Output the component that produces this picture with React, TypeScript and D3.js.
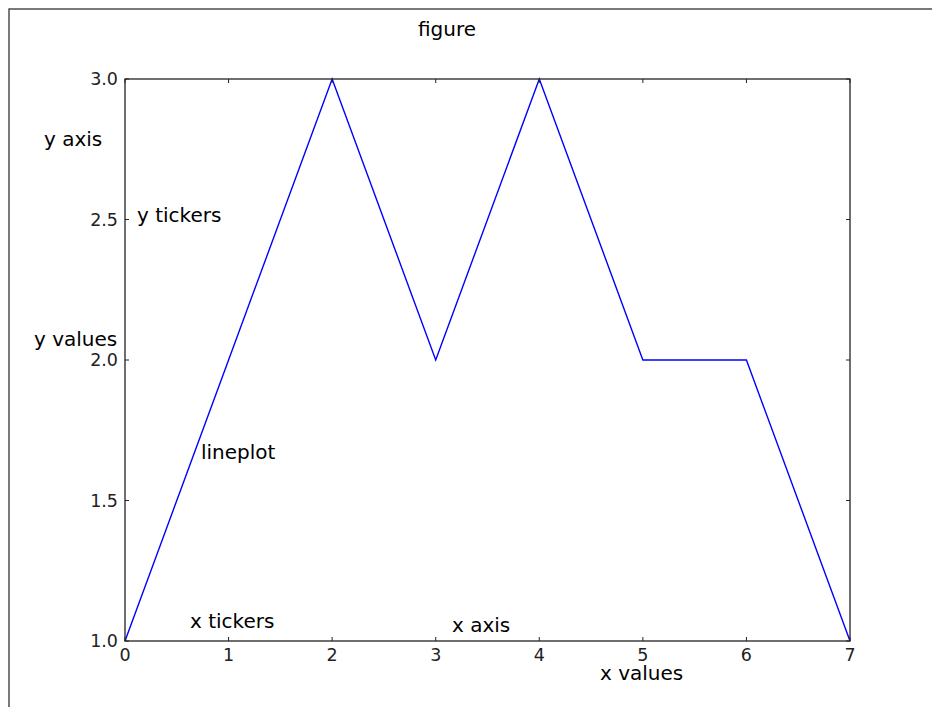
import React from "react";
import * as d3 from "d3";

const xValues = [0, 1, 2, 3, 4, 5, 6, 7];
const yValues = [1, 2, 3, 2, 3, 2, 2, 1];
const xTicks = [0, 1, 2, 3, 4, 5, 6, 7];
const yTicks = [1.0, 1.5, 2.0, 2.5, 3.0];

const annotations = [
  { text: "figure", x: 418, y: 36 },
  { text: "y axis", x: 44, y: 146 },
  { text: "y tickers", x: 137, y: 222 },
  { text: "y values", x: 34, y: 346 },
  { text: "lineplot", x: 201, y: 459 },
  { text: "x tickers", x: 190, y: 628 },
  { text: "x axis", x: 452, y: 632 },
  { text: "x values", x: 600, y: 680 },
];

export default function App() {
  const W = 932, H = 707;
  const left = 125, right = 850, top = 79, bottom = 641;
  const x = d3.scaleLinear().domain([0, 7]).range([left, right]);
  const y = d3.scaleLinear().domain([1, 3]).range([bottom, top]);
  const line = d3.line<number>().x((_, i) => x(xValues[i])).y((d) => y(d));
  const font = "'DejaVu Sans', sans-serif";
  const tl = 4;
  return (
    <svg
      width={W}
      height={H}
      style={{ position: "fixed", left: 0, top: 0, background: "#fff" }}
      fontFamily={font}
    >
      <rect x={9} y={9} width={W + 20} height={H + 20} fill="#fff" stroke="#333" strokeWidth={1.3} />
      <path d={line(yValues) || ""} fill="none" stroke="#0000ff" strokeWidth={1.4} />
      {xTicks.map((t) => (
        <g key={"x" + t}>
          <line x1={x(t)} x2={x(t)} y1={bottom} y2={bottom - tl} stroke="#222" />
          <line x1={x(t)} x2={x(t)} y1={top} y2={top + tl} stroke="#222" />
          <text x={x(t)} y={661} textAnchor="middle" fontSize={17.5} fill="#222">
            {t}
          </text>
        </g>
      ))}
      {yTicks.map((t) => (
        <g key={"y" + t}>
          <line x1={left} x2={left + tl} y1={y(t)} y2={y(t)} stroke="#222" />
          <line x1={right} x2={right - tl} y1={y(t)} y2={y(t)} stroke="#222" />
          <text x={118} y={y(t)} dy="0.36em" textAnchor="end" fontSize={17.5} fill="#222">
            {t.toFixed(1)}
          </text>
        </g>
      ))}
      <rect x={left} y={top} width={right - left} height={bottom - top} fill="none" stroke="#222" strokeWidth={1.3} />
      {annotations.map((a) => (
        <text key={a.text} x={a.x} y={a.y} fontSize={20} fill="#000">
          {a.text}
        </text>
      ))}
    </svg>
  );
}
